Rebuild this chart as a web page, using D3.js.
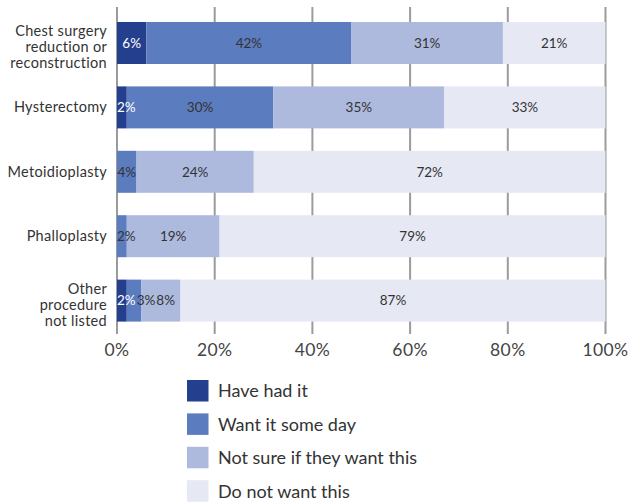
<!DOCTYPE html>
<html>
<head>
<meta charset="utf-8">
<style>
  body { margin: 0; background: #fff; }
  svg { display: block; font-family: Lato, "Open Sans", sans-serif; }
</style>
</head>
<body>
<svg width="632" height="502"></svg>
<script src="https://cdn.jsdelivr.net/npm/d3@7"></script>
<script>

var procedures = [
  ["Chest surgery", "reduction or", "reconstruction"],
  ["Hysterectomy"],
  ["Metoidioplasty"],
  ["Phalloplasty"],
  ["Other", "procedure", "not listed"]
];
var seriesNames = ["Have had it", "Want it some day", "Not sure if they want this", "Do not want this"];
var colors = ["#233f8e", "#5c7cc0", "#adb9dd", "#e6e8f4"];
var haveHad = [6, 2, 0, 0, 2];
var wantIt = [42, 30, 4, 2, 3];
var notSure = [31, 35, 24, 19, 8];
var doNotWant = [21, 33, 72, 79, 87];
var xTicks = [0, 20, 40, 60, 80, 100];

var svg = d3.select("svg");
var series = [haveHad, wantIt, notSure, doNotWant];

var x = d3.scaleLinear().domain([0, 100]).range([117, 605.5]);
var y = d3.scaleBand()
    .domain(d3.range(procedures.length))
    .range([22, 321.6])
    .paddingInner(0.348);

// gridlines behind bars
svg.append("g").selectAll("line")
    .data(xTicks)
  .join("line")
    .attr("x1", function(d) { return x(d); })
    .attr("x2", function(d) { return x(d); })
    .attr("y1", 7)
    .attr("y2", 334)
    .attr("stroke", "#9b9b9b")
    .attr("stroke-width", 2);

svg.append("g").selectAll("text")
    .data(xTicks)
  .join("text")
    .attr("x", function(d) { return x(d); })
    .attr("y", 356)
    .attr("text-anchor", "middle")
    .attr("fill", "#444")
    .attr("font-size", 17.5)
    .attr("letter-spacing", 0.4)
    .text(function(d) { return d + "%"; });

// stacked bars
var rows = procedures.map(function(p, i) {
  var start = 0;
  return series.map(function(s, k) {
    var seg = {row: i, k: k, v: s[i], x0: start, x1: start + s[i]};
    start += s[i];
    return seg;
  });
});

var bars = svg.append("g");
rows.forEach(function(segs) {
  bars.selectAll(null)
      .data(segs.filter(function(d) { return d.v > 0; }))
    .enter().append("rect")
      .attr("x", function(d) { return x(d.x0); })
      .attr("width", function(d) { return x(d.x1) - x(d.x0); })
      .attr("y", function(d) { return y(d.row); })
      .attr("height", y.bandwidth())
      .attr("fill", function(d) { return colors[d.k]; });
});

// value labels, pushed right if they would overlap
var labels = svg.append("g");
rows.forEach(function(segs) {
  var prevEnd = x(0);
  segs.filter(function(d) { return d.v > 0; }).forEach(function(d) {
    var t = labels.append("text")
        .attr("font-size", 13.5)
        .attr("fill", d.k === 0 ? "#fff" : "#333")
        .attr("y", y(d.row) + y.bandwidth() / 2)
        .attr("dy", "0.35em")
        .text(d.v + "%");
    var w = t.node().getComputedTextLength();
    var cx = (x(d.x0) + x(d.x1)) / 2;
    var left = Math.max(cx - w / 2, prevEnd);
    t.attr("x", left);
    prevEnd = left + w + 1;
  });
});

// category labels
var cat = svg.append("g");
procedures.forEach(function(lines, i) {
  var cy = y(i) + y.bandwidth() / 2 + (lines.length > 1 ? 4 : 0);
  lines.forEach(function(l, j) {
    cat.append("text")
        .attr("text-anchor", "end")
        .attr("fill", "#333")
        .attr("font-size", 14.5)
        .attr("letter-spacing", 0.3)
        .attr("x", 107)
        .attr("y", cy + (j - (lines.length - 1) / 2) * 16)
        .attr("dy", "0.35em")
        .text(l);
  });
});

// legend
var legend = svg.append("g").selectAll("g")
    .data(seriesNames)
  .join("g")
    .attr("transform", function(d, i) { return "translate(187," + (380 + i * 33.4) + ")"; });

legend.append("rect")
    .attr("width", 21.5)
    .attr("height", 21.5)
    .attr("fill", function(d, i) { return colors[i]; });

legend.append("text")
    .attr("x", 31)
    .attr("y", 11)
    .attr("dy", "0.35em")
    .attr("font-size", 18)
    .attr("fill", "#333")
    .text(function(d) { return d; });

</script>
</body>
</html>
